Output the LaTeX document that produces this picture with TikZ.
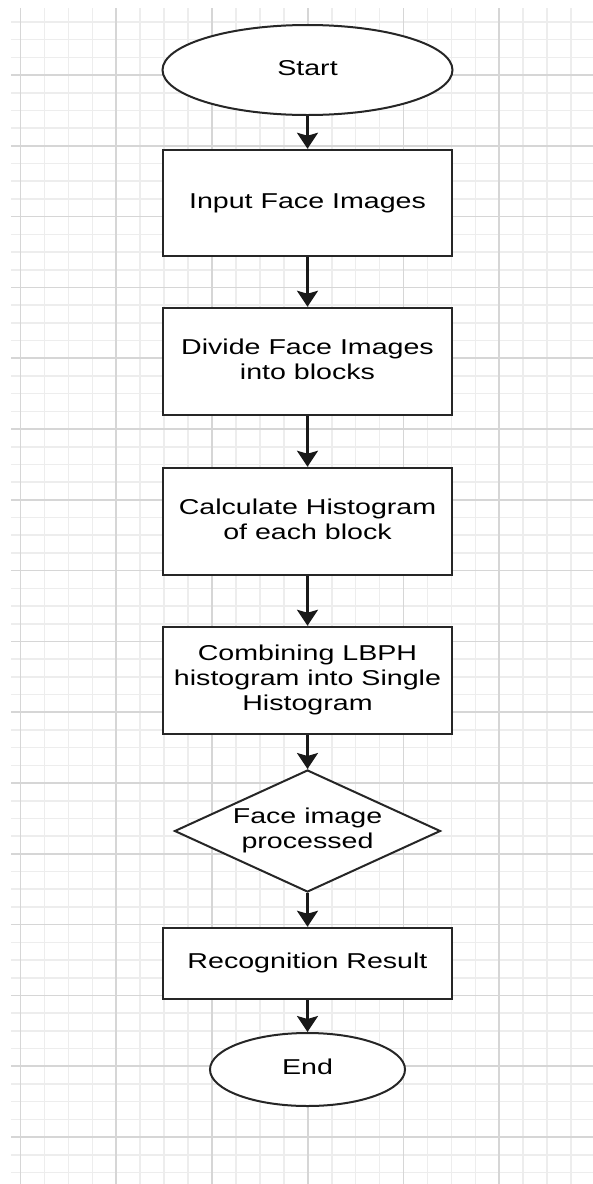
\documentclass[tikz,border=0pt]{standalone}
\usepackage{fontspec}
\setmainfont{Liberation Sans}
\usepackage{graphicx}
\usetikzlibrary{shapes.geometric,arrows.meta}

% wide lettering used inside the flow chart shapes
\newcommand{\flowtext}[1]{\raisebox{-2pt}{\scalebox{1.33}[1]{\begin{tabular}{@{}c@{}}#1\end{tabular}}}}

\begin{document}
\begin{tikzpicture}[x=1pt,y=-1pt,
  >={Stealth[length=16pt,width=21pt,inset=3pt]},
  minorline/.style={line width=1.6pt,draw=black!7},
  majorline/.style={line width=1.6pt,draw=black!16},
  base/.style={draw=black!85,fill=white,inner sep=0pt,font=\fontsize{21.5}{25}\selectfont},
  box/.style={base,rectangle,line width=2.5pt,minimum width=289pt},
  term/.style={base,ellipse,line width=2pt},
  decision/.style={base,diamond,aspect=2.18,line width=2pt,minimum width=266pt,minimum height=122pt},
  flow/.style={->,line width=2.2pt,draw=black!90}]
\useasboundingbox (0,0) rectangle (593,1184);
\fill[white] (0,0) rectangle (593,1184);
% grid paper
\foreach \j in {-3,...,62}
  \draw[minorline] (11,75+\j*17.7) -- (593,75+\j*17.7);
\foreach \i in {0,...,23}
  \draw[minorline] (20.5+\i*23.94,8) -- (20.5+\i*23.94,1184);
\foreach \j in {0,...,15}
  \draw[majorline] (11,75+\j*70.8) -- (593,75+\j*70.8);
\foreach \i in {0,...,5}
  \draw[majorline] (20.5+\i*95.75,8) -- (20.5+\i*95.75,1184);

% steps of the chart
\node[term,minimum width=290pt,minimum height=90pt] (start) at (307.5,70) {\flowtext{Start}};
\node[box,minimum height=106pt] (input) at (307.5,203) {\flowtext{Input Face Images}};
\node[box,minimum height=107pt] (divide) at (307.5,361.5) {\flowtext{Divide Face Images\\into blocks}};
\node[box,minimum height=107pt] (hist) at (307.5,521.5) {\flowtext{Calculate Histogram\\of each block}};
\node[box,minimum height=107pt] (combine) at (307.5,680.5) {\flowtext{Combining LBPH\\histogram into Single\\Histogram}};
\node[decision] (check) at (307.5,831) {\flowtext{Face image\\processed}};
\node[box,minimum height=71pt] (result) at (307.5,963.5) {\flowtext{Recognition Result}};
\node[term,minimum width=195pt,minimum height=73pt] (stop) at (307.5,1069.5) {\flowtext{End}};

% arrows between steps
\foreach \a/\b in {start/input,input/divide,divide/hist,hist/combine,combine/check,check/result,result/stop}
  \draw[flow] (\a) -- (\b);
\end{tikzpicture}
\end{document}
